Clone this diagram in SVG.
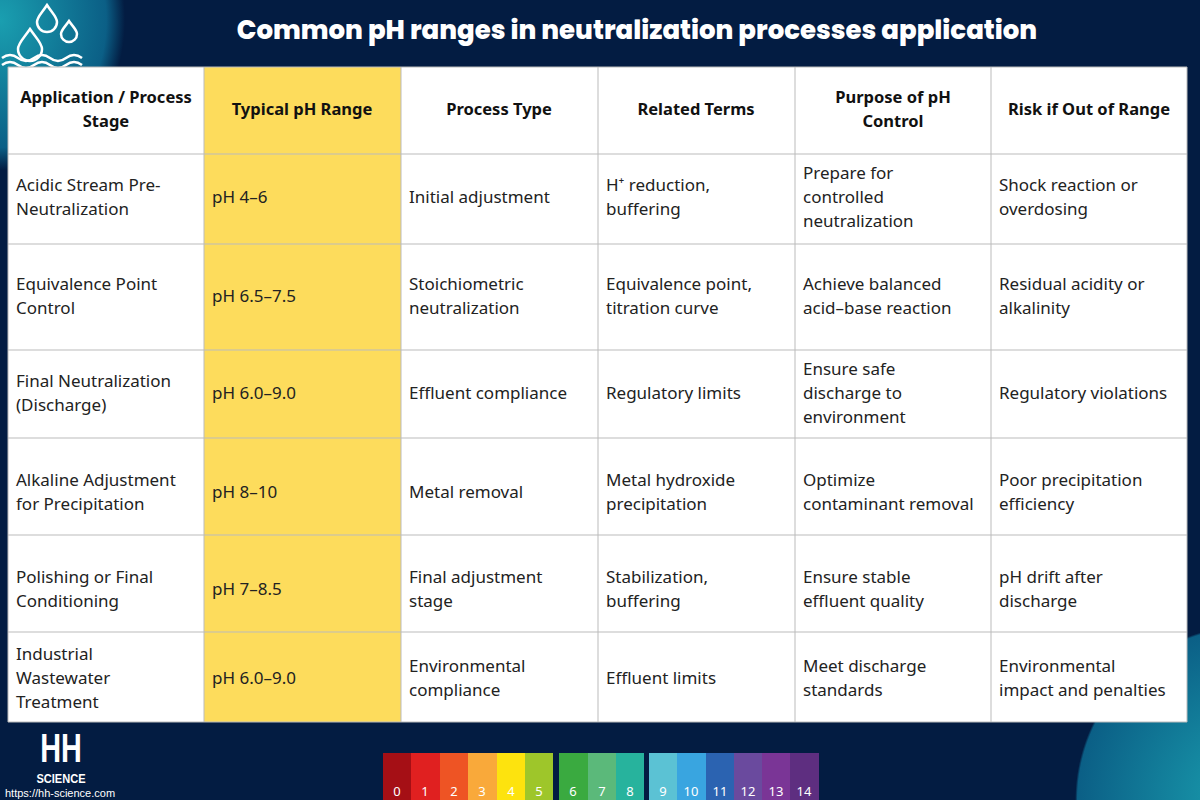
<svg xmlns="http://www.w3.org/2000/svg" width="1200" height="800" viewBox="0 0 1200 800">
<defs>
<radialGradient id="tl" cx="0" cy="0" r="1" gradientUnits="userSpaceOnUse" gradientTransform="translate(0,20) scale(125,150)">
<stop offset="0" stop-color="#1a9fb0"/><stop offset="0.85" stop-color="#0b5f86"/><stop offset="1" stop-color="#0b5f86" stop-opacity="0"/>
</radialGradient>
<radialGradient id="br" cx="1250" cy="800" r="230" gradientUnits="userSpaceOnUse">
<stop offset="0" stop-color="#1aa0b0"/><stop offset="0.75" stop-color="#0b5f86"/><stop offset="0.76" stop-color="#0b5f86" stop-opacity="0"/>
</radialGradient>
<style>
.h{font-family:"Noto Sans","Open Sans",sans-serif;font-size:16.5px;font-weight:bold;fill:#111;text-anchor:middle}
.c{font-family:"Noto Sans","Open Sans",sans-serif;font-size:17px;fill:#222}
.g{fill:none;stroke:#bbb;stroke-width:1}
.n{font-family:"Noto Sans",sans-serif;font-size:13px;fill:#fff;text-anchor:middle}
</style>
</defs>
<rect width="1200" height="800" fill="#031c42"/>
<rect width="1200" height="800" fill="url(#tl)"/>
<rect width="1200" height="800" fill="url(#br)"/>
<g id="logo-top" fill="none" stroke="#fff" stroke-width="2.5">
<path d="M47 5 C42 13 37 17 37 22 a10 10 0 0 0 20 0 C57 17 52 13 47 5Z"/>
<path d="M69 21 C65 27 61 30 61 34 a8 8 0 0 0 16 0 C77 30 73 27 69 21Z"/>
<path d="M30 29 C24 38 18 43 18 49 a12 12 0 0 0 24 0 C42 43 36 38 30 29Z"/>
<path d="M2 58 q8 -6 16 0 t16 0 t16 0 t16 0 t16 0"/>
<path d="M2 65 q8 -6 16 0 t16 0 t16 0 t16 0 t16 0"/>
</g>
<text x="637" y="39" text-anchor="middle" font-family="Poppins,'Open Sans','Noto Sans',sans-serif" font-weight="800" font-size="26" fill="#fff">Common pH ranges in neutralization processes application</text>
<g id="table">
<rect x="8" y="67" width="1179" height="655" fill="#fff"/>
<rect x="204" y="67" width="197" height="655" fill="#fddc5c"/>
<g class="g">
<path d="M8 67H1187M8 154H1187M8 244H1187M8 350H1187M8 438H1187M8 535H1187M8 632H1187M8 722H1187"/>
<path d="M8 67V722M204 67V722M401 67V722M598 67V722M795 67V722M991 67V722M1187 67V722"/>
</g>
<text class="h"><tspan x="106" y="103">Application / Process</tspan><tspan x="106" y="127">Stage</tspan></text>
<text class="h" x="302" y="115">Typical pH Range</text>
<text class="h" x="499" y="115">Process Type</text>
<text class="h" x="696" y="115">Related Terms</text>
<text class="h"><tspan x="893" y="103">Purpose of pH</tspan><tspan x="893" y="127">Control</tspan></text>
<text class="h" x="1089" y="115">Risk if Out of Range</text>

<text class="c"><tspan x="16" y="191">Acidic Stream Pre-</tspan><tspan x="16" y="215">Neutralization</tspan></text>
<text class="c" x="212" y="203">pH 4–6</text>
<text class="c" x="409" y="203">Initial adjustment</text>
<text class="c"><tspan x="606" y="191">H⁺ reduction,</tspan><tspan x="606" y="215">buffering</tspan></text>
<text class="c"><tspan x="803" y="179">Prepare for</tspan><tspan x="803" y="203">controlled</tspan><tspan x="803" y="227">neutralization</tspan></text>
<text class="c"><tspan x="999" y="191">Shock reaction or</tspan><tspan x="999" y="215">overdosing</tspan></text>

<text class="c"><tspan x="16" y="290">Equivalence Point</tspan><tspan x="16" y="314">Control</tspan></text>
<text class="c" x="212" y="302">pH 6.5–7.5</text>
<text class="c"><tspan x="409" y="290">Stoichiometric</tspan><tspan x="409" y="314">neutralization</tspan></text>
<text class="c"><tspan x="606" y="290">Equivalence point,</tspan><tspan x="606" y="314">titration curve</tspan></text>
<text class="c"><tspan x="803" y="290">Achieve balanced</tspan><tspan x="803" y="314">acid–base reaction</tspan></text>
<text class="c"><tspan x="999" y="290">Residual acidity or</tspan><tspan x="999" y="314">alkalinity</tspan></text>

<text class="c"><tspan x="16" y="387">Final Neutralization</tspan><tspan x="16" y="411">(Discharge)</tspan></text>
<text class="c" x="212" y="399">pH 6.0–9.0</text>
<text class="c" x="409" y="399">Effluent compliance</text>
<text class="c" x="606" y="399">Regulatory limits</text>
<text class="c"><tspan x="803" y="375">Ensure safe</tspan><tspan x="803" y="399">discharge to</tspan><tspan x="803" y="423">environment</tspan></text>
<text class="c" x="999" y="399">Regulatory violations</text>

<text class="c"><tspan x="16" y="486">Alkaline Adjustment</tspan><tspan x="16" y="510">for Precipitation</tspan></text>
<text class="c" x="212" y="498">pH 8–10</text>
<text class="c" x="409" y="498">Metal removal</text>
<text class="c"><tspan x="606" y="486">Metal hydroxide</tspan><tspan x="606" y="510">precipitation</tspan></text>
<text class="c"><tspan x="803" y="486">Optimize</tspan><tspan x="803" y="510">contaminant removal</tspan></text>
<text class="c"><tspan x="999" y="486">Poor precipitation</tspan><tspan x="999" y="510">efficiency</tspan></text>

<text class="c"><tspan x="16" y="583">Polishing or Final</tspan><tspan x="16" y="607">Conditioning</tspan></text>
<text class="c" x="212" y="595">pH 7–8.5</text>
<text class="c"><tspan x="409" y="583">Final adjustment</tspan><tspan x="409" y="607">stage</tspan></text>
<text class="c"><tspan x="606" y="583">Stabilization,</tspan><tspan x="606" y="607">buffering</tspan></text>
<text class="c"><tspan x="803" y="583">Ensure stable</tspan><tspan x="803" y="607">effluent quality</tspan></text>
<text class="c"><tspan x="999" y="583">pH drift after</tspan><tspan x="999" y="607">discharge</tspan></text>

<text class="c"><tspan x="16" y="660">Industrial</tspan><tspan x="16" y="684">Wastewater</tspan><tspan x="16" y="708">Treatment</tspan></text>
<text class="c" x="212" y="684">pH 6.0–9.0</text>
<text class="c"><tspan x="409" y="672">Environmental</tspan><tspan x="409" y="696">compliance</tspan></text>
<text class="c" x="606" y="684">Effluent limits</text>
<text class="c"><tspan x="803" y="672">Meet discharge</tspan><tspan x="803" y="696">standards</tspan></text>
<text class="c"><tspan x="999" y="672">Environmental</tspan><tspan x="999" y="696">impact and penalties</tspan></text>
</g>
<g id="logo-bottom" fill="#fff" font-family="'Liberation Sans',sans-serif" font-weight="bold">
<text x="61" y="762" text-anchor="middle" font-size="40" transform="translate(61 0) scale(0.72 1) translate(-61 0)">HH</text>
<text x="61" y="783" text-anchor="middle" font-size="13" transform="translate(61 0) scale(0.85 1) translate(-61 0)">SCIENCE</text>
<text x="5" y="797" font-size="11" font-weight="normal">https://hh-science.com</text>
</g>
<g id="ph-scale">
<rect x="383" y="753" width="28" height="47" fill="#a50f15"/>
<rect x="411" y="753" width="29" height="47" fill="#e02020"/>
<rect x="440" y="753" width="28" height="47" fill="#ee5424"/>
<rect x="468" y="753" width="29" height="47" fill="#f9a93a"/>
<rect x="497" y="753" width="28" height="47" fill="#fde30e"/>
<rect x="525" y="753" width="28" height="47" fill="#9ec62a"/>
<rect x="559" y="753" width="29" height="47" fill="#3aaa40"/>
<rect x="588" y="753" width="28" height="47" fill="#5bb97a"/>
<rect x="616" y="753" width="28" height="47" fill="#27b39d"/>
<rect x="649" y="753" width="28" height="47" fill="#5bc2d4"/>
<rect x="677" y="753" width="29" height="47" fill="#39a5e0"/>
<rect x="706" y="753" width="28" height="47" fill="#2b63b1"/>
<rect x="734" y="753" width="28" height="47" fill="#6a4a9e"/>
<rect x="762" y="753" width="28" height="47" fill="#7a3596"/>
<rect x="790" y="753" width="29" height="47" fill="#5e2e80"/>
<text class="n" y="796"><tspan x="397">0</tspan><tspan x="425">1</tspan><tspan x="454">2</tspan><tspan x="482">3</tspan><tspan x="511">4</tspan><tspan x="539">5</tspan><tspan x="573">6</tspan><tspan x="602">7</tspan><tspan x="630">8</tspan><tspan x="663">9</tspan><tspan x="691">10</tspan><tspan x="720">11</tspan><tspan x="748">12</tspan><tspan x="776">13</tspan><tspan x="804">14</tspan></text>
</g>
</svg>
